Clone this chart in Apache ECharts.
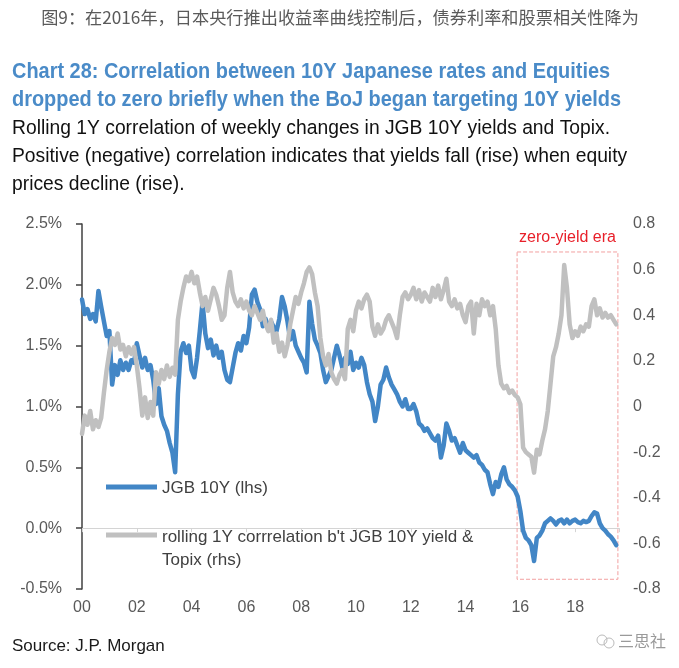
<!DOCTYPE html>
<html><head><meta charset="utf-8">
<script src="https://cdn.jsdelivr.net/npm/echarts@6/dist/echarts.min.js"></script>
<style>html,body{margin:0;padding:0;background:#fff}#c{width:679px;height:668px}</style>
</head><body><div id="c"></div>
<script>
// ---- data (weekly-ish samples every 0.1 year from 2000.0) ----
const startYear = 2000;
const stepYears = 0.1;
const jgb10y = [
 1.88,1.76,1.80,1.72,1.76,1.70,1.95,1.82,1.70,1.58,
 1.62,1.18,1.34,1.26,1.38,1.30,1.36,1.30,1.38,1.36,
 1.52,1.42,1.32,1.40,1.30,1.34,1.22,1.02,1.15,0.92,
 0.85,0.80,0.70,0.62,0.46,1.10,1.45,1.52,1.44,1.50,
 1.30,1.24,1.40,1.62,1.86,1.60,1.48,1.55,1.42,1.50,
 1.40,1.45,1.30,1.22,1.20,1.32,1.44,1.52,1.46,1.58,
 1.52,1.65,1.92,1.96,1.86,1.80,1.66,1.72,1.64,1.70,
 1.65,1.62,1.72,1.90,1.82,1.70,1.55,1.62,1.50,1.45,
 1.40,1.36,1.28,1.86,1.68,1.55,1.50,1.44,1.30,1.20,
 1.25,1.30,1.40,1.50,1.42,1.32,1.40,1.35,1.45,1.30,
 1.36,1.32,1.40,1.34,1.20,1.10,1.04,0.88,1.00,1.18,
 1.22,1.32,1.24,1.18,1.14,1.10,1.04,1.00,1.06,0.98,
 0.98,1.02,0.96,0.86,0.84,0.80,0.82,0.78,0.74,0.72,
 0.76,0.58,0.68,0.86,0.80,0.72,0.74,0.68,0.62,0.70,
 0.64,0.62,0.60,0.58,0.60,0.54,0.52,0.48,0.46,0.36,
 0.28,0.38,0.34,0.44,0.50,0.40,0.36,0.34,0.31,0.26,
 0.14,-0.02,-0.08,-0.10,-0.14,-0.27,-0.08,-0.06,-0.02,0.04,
 0.06,0.08,0.06,0.03,0.06,0.07,0.04,0.07,0.04,0.06,
 0.07,0.05,0.04,0.06,0.05,0.06,0.10,0.13,0.12,0.04,
 0.00,-0.02,-0.05,-0.07,-0.10,-0.14
];
const rollingCorr = [
 -0.12,-0.04,-0.08,-0.02,-0.10,-0.06,-0.09,-0.05,0.06,0.16,
 0.24,0.30,0.27,0.32,0.25,0.27,0.22,0.26,0.23,0.26,
 0.18,0.08,-0.04,0.04,-0.05,0.02,-0.04,0.15,0.10,0.16,
 0.12,0.18,0.13,0.17,0.14,0.38,0.46,0.52,0.57,0.55,
 0.59,0.54,0.57,0.50,0.44,0.48,0.42,0.47,0.52,0.49,
 0.44,0.38,0.40,0.52,0.59,0.50,0.46,0.44,0.47,0.43,
 0.46,0.42,0.40,0.44,0.41,0.38,0.42,0.36,0.33,0.38,
 0.28,0.32,0.24,0.28,0.22,0.27,0.36,0.42,0.48,0.45,
 0.50,0.54,0.59,0.61,0.58,0.50,0.44,0.30,0.22,0.18,
 0.23,0.15,0.12,0.10,0.14,0.16,0.12,0.34,0.38,0.33,
 0.42,0.46,0.43,0.47,0.49,0.46,0.35,0.31,0.36,0.32,
 0.34,0.38,0.40,0.37,0.34,0.30,0.40,0.48,0.50,0.47,
 0.49,0.52,0.47,0.51,0.46,0.50,0.48,0.46,0.52,0.48,
 0.53,0.47,0.51,0.56,0.46,0.44,0.47,0.43,0.45,0.40,
 0.37,0.44,0.46,0.32,0.45,0.40,0.47,0.44,0.46,0.40,
 0.44,0.34,0.18,0.10,0.08,0.09,0.06,0.07,0.05,0.04,
 0.01,-0.18,-0.20,-0.21,-0.22,-0.29,-0.19,-0.21,-0.15,-0.10,
 -0.02,0.10,0.22,0.26,0.32,0.40,0.62,0.52,0.36,0.30,
 0.33,0.31,0.35,0.33,0.36,0.35,0.44,0.47,0.40,0.43,
 0.39,0.41,0.39,0.40,0.38,0.36
];
// axes
const xMin = 2000, xMax = 2019.6, xStep = 2;
const leftMin = -0.5, leftMax = 2.5, leftStep = 0.5;
const rightMin = -0.8, rightMax = 0.8, rightStep = 0.2;
// annotation: zero-yield era box (x in years, y in left-axis units)
const eraLabel = 'zero-yield era';
const eraX = [2015.88, 2019.56];
const eraY = [2.27, -0.42];
// texts
const caption = '图9：在2016年，日本央行推出收益率曲线控制后，债券利率和股票相关性降为';
const titleLines = ['Chart 28: Correlation between 10Y Japanese rates and Equities',
                    'dropped to zero briefly when the BoJ began targeting 10Y yields'];
const subLines = ['Rolling 1Y correlation of weekly changes in JGB 10Y yields and Topix.',
                  'Positive (negative) correlation indicates that yields fall (rise) when equity',
                  'prices decline (rise).'];
const seriesNames = ['JGB 10Y (lhs)', "rolling 1Y corrrelation b't JGB 10Y yield &\nTopix (rhs)"];
const source = 'Source: J.P. Morgan';
const watermark = '三思社';

const toPairs = arr => arr.map((v, i) => [Math.round((startYear + i * stepYears) * 100) / 100, v]);

const BLUE = '#4286c6', GREY = '#c0c0c0', AX = '#595959';
const FONT = '"Liberation Sans", Arial, sans-serif';

const chart = echarts.init(document.getElementById('c'), null, {renderer: 'canvas'});
chart.setOption({
  animation: false,
  backgroundColor: '#fff',
  grid: {left: 82, right: 60, top: 224, bottom: 79, containLabel: false},
  xAxis: [{
    type: 'value', min: xMin, max: xMax, interval: xStep,
    axisLine: {show: false}, axisTick: {show: false}, splitLine: {show: false},
    axisLabel: {color: AX, fontSize: 16, fontFamily: FONT, margin: 11, showMaxLabel: false,
      formatter: v => String(Math.round(v) % 100).padStart(2, '0')}
  }, {
    type: 'value', min: xMin, max: xMax, interval: xStep, position: 'bottom',
    axisLine: {show: true, onZero: true, onZeroAxisIndex: 0, lineStyle: {color: '#d4d4d4', width: 1}},
    axisTick: {show: true, length: 4, lineStyle: {color: '#d4d4d4'}},
    axisLabel: {show: false}, splitLine: {show: false}
  }],
  yAxis: [{
    type: 'value', min: leftMin, max: leftMax, interval: leftStep, position: 'left',
    axisLine: {show: true, lineStyle: {color: '#404040', width: 1.5}},
    axisTick: {show: true, length: 6, lineStyle: {color: '#404040', width: 1.5}},
    splitLine: {show: false},
    axisLabel: {color: AX, fontSize: 16, fontFamily: FONT, margin: 20,
      formatter: v => v.toFixed(1) + '%'}
  }, {
    type: 'value', min: rightMin, max: rightMax, interval: rightStep, position: 'right',
    axisLine: {show: false}, axisTick: {show: false}, splitLine: {show: false},
    axisLabel: {color: AX, fontSize: 16, fontFamily: FONT, margin: 14,
      formatter: v => Math.abs(v) < 1e-9 ? '0' : v.toFixed(1)}
  }],
  series: [{
    name: seriesNames[0], type: 'line', xAxisIndex: 0, yAxisIndex: 0,
    data: toPairs(jgb10y), showSymbol: false, smooth: false,
    lineStyle: {color: BLUE, width: 4.5, join: 'round', cap: 'round'}, z: 3,
    markArea: {
      silent: true,
      itemStyle: {color: 'rgba(0,0,0,0)', borderColor: '#f2a0a0', borderWidth: 1, borderType: 'dashed'},
      label: {show: true, position: 'top', distance: 6, formatter: eraLabel, color: '#e8202a',
        fontSize: 16, fontFamily: FONT},
      data: [[{xAxis: eraX[0], yAxis: eraY[0]}, {xAxis: eraX[1], yAxis: eraY[1]}]]
    }
  }, {
    name: seriesNames[1], type: 'line', xAxisIndex: 0, yAxisIndex: 1,
    data: toPairs(rollingCorr), showSymbol: false, smooth: false,
    lineStyle: {color: GREY, width: 4.5, join: 'round', cap: 'round'}, z: 4
  }],
  graphic: [
    {type: 'text', x: 340, y: 17, style: {text: caption, fill: '#5a5a5a', fontSize: 17.2,
      fontFamily: '"Noto Sans CJK SC", sans-serif', textAlign: 'center', textVerticalAlign: 'middle'}},
    {type: 'text', x: 12, y: 72, scaleX: 0.906, style: {text: titleLines[0], fill: '#4a8bc8', fontSize: 22,
      fontWeight: 'bold', fontFamily: FONT, textVerticalAlign: 'middle'}},
    {type: 'text', x: 12, y: 100, scaleX: 0.906, style: {text: titleLines[1], fill: '#4a8bc8', fontSize: 22,
      fontWeight: 'bold', fontFamily: FONT, textVerticalAlign: 'middle'}},
    {type: 'text', x: 12, y: 129, style: {text: subLines[0], fill: '#111', fontSize: 19.3, fontFamily: FONT, textVerticalAlign: 'middle'}},
    {type: 'text', x: 12, y: 157, style: {text: subLines[1], fill: '#111', fontSize: 19.3, fontFamily: FONT, textVerticalAlign: 'middle'}},
    {type: 'text', x: 12, y: 185, style: {text: subLines[2], fill: '#111', fontSize: 19.3, fontFamily: FONT, textVerticalAlign: 'middle'}},
    // legend
    {type: 'line', shape: {x1: 106, y1: 487, x2: 157, y2: 487}, style: {stroke: BLUE, lineWidth: 5}},
    {type: 'text', x: 162, y: 488, style: {text: seriesNames[0], fill: '#404040', fontSize: 17, fontFamily: FONT, textVerticalAlign: 'middle'}},
    {type: 'line', shape: {x1: 106, y1: 535, x2: 157, y2: 535}, style: {stroke: GREY, lineWidth: 5}},
    {type: 'text', x: 162, y: 526, style: {text: seriesNames[1], fill: '#404040', fontSize: 17, lineHeight: 23, fontFamily: FONT, textVerticalAlign: 'top'}},
    // source + watermark
    {type: 'text', x: 12, y: 646, style: {text: source, fill: '#1a1a1a', fontSize: 17, fontFamily: FONT, textVerticalAlign: 'middle'}},
    {type: 'circle', shape: {cx: 602, cy: 640, r: 5}, style: {fill: 'none', stroke: '#bbb', lineWidth: 1}},
    {type: 'circle', shape: {cx: 609, cy: 643, r: 5}, style: {fill: 'none', stroke: '#bbb', lineWidth: 1}},
    {type: 'text', x: 618, y: 641, style: {text: watermark, fill: '#9a9a9a', fontSize: 16,
      fontFamily: '"Noto Sans CJK SC", sans-serif', textVerticalAlign: 'middle'}}
  ]
});
</script>
</body></html>
